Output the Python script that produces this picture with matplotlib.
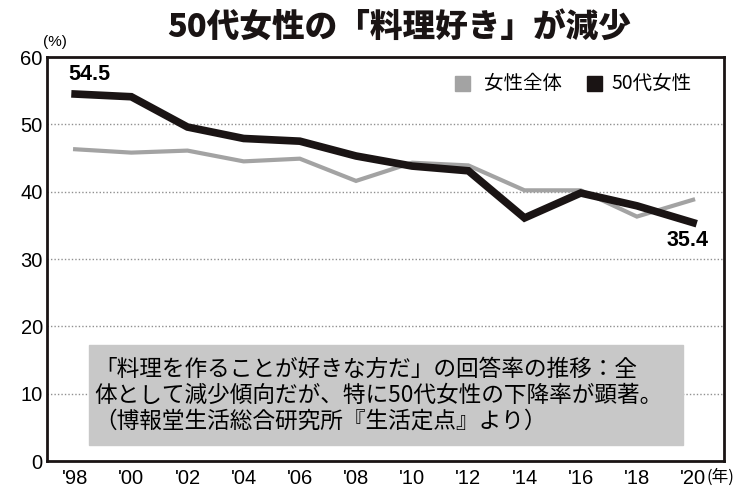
import matplotlib
matplotlib.use('Agg')
import matplotlib.pyplot as plt
from matplotlib.patches import Rectangle

plt.rcParams['font.family'] = ['Noto Sans CJK JP', 'DejaVu Sans']

years = [1998, 2000, 2002, 2004, 2006, 2008, 2010, 2012, 2014, 2016, 2018, 2020]
tick_labels = ["'98", "'00", "'02", "'04", "'06", "'08", "'10", "'12", "'14", "'16", "'18", "'20"]
women_all = [46.3, 45.8, 46.1, 44.5, 44.9, 41.6, 44.3, 43.9, 40.2, 40.2, 36.3, 38.8]
women_50s = [54.5, 54.1, 49.6, 47.9, 47.5, 45.3, 43.8, 43.1, 36.1, 39.8, 37.9, 35.4]

fig = plt.figure(figsize=(7.5, 4.94), dpi=100)
ax = fig.add_axes([0.0627, 0.0668, 0.9026, 0.8178])

ax.plot(years, women_all, color='#a3a3a3', lw=3, solid_joinstyle='miter', zorder=3)
ax.plot(years, women_50s, color='#1a1414', lw=5.5, solid_joinstyle='miter', zorder=4)

ax.set_xlim(1997.0, 2021.1)
ax.set_ylim(0, 60)
ax.set_yticks(range(0, 61, 10))
ax.set_xticks(years)
ax.set_xticklabels(tick_labels, family='Liberation Sans', fontsize=14.5)
for t in ax.get_yticklabels():
    t.set_family('Liberation Sans')
    t.set_fontsize(14.5)
ax.tick_params(length=0, pad=6)
ax.tick_params(axis='y', pad=3)
for y in range(10, 60, 10):
    ax.axhline(y, color='#909090', lw=1, ls=(0, (1, 1.5)), zorder=1)
for s in ax.spines.values():
    s.set_linewidth(2)
    s.set_color('#1a1414')

# value labels
ax.text(years[0] - 0.25, women_50s[0] + 1.3, '54.5', fontsize=15.5, fontweight='bold',
        family='Liberation Sans', ha='left', va='bottom')
ax.text(years[-1] + 0.55, women_50s[-1] - 1.1, '35.4', fontsize=15.5, fontweight='bold',
        family='Liberation Sans', ha='right', va='top')

# title and units
fig.text(0.532, 0.946, '50代女性の「料理好き」が減少', fontsize=23.5, fontweight='heavy',
         ha='center', va='center', color='#1a1414')
fig.text(0.057, 0.915, '(%)', fontsize=11, family='Liberation Sans', ha='left', va='center')
fig.text(0.942, 0.034, '(年)', fontsize=12, ha='left', va='center')

# legend
fig.patches.append(Rectangle((0.607, 0.815), 0.02, 0.031, transform=fig.transFigure,
                             color='#a3a3a3'))
fig.text(0.645, 0.83, '女性全体', fontsize=14, ha='left', va='center')
fig.patches.append(Rectangle((0.783, 0.815), 0.02, 0.031, transform=fig.transFigure,
                             color='#1a1414'))
fig.text(0.815, 0.83, '50代女性', fontsize=14, ha='left', va='center')

# note box
fig.patches.append(Rectangle((0.118, 0.099), 0.793, 0.203, transform=fig.transFigure,
                             color='#c8c8c8', zorder=5))
note = ('「料理を作ることが好きな方だ」の回答率の推移：全\n'
        '体として減少傾向だが、特に50代女性の下降率が顕著。\n'
        '（博報堂生活総合研究所『生活定点』より）')
fig.text(0.126, 0.2, note, fontsize=16.3, ha='left', va='center', linespacing=1.15,
         zorder=6)

fig.savefig('out.png', dpi=100)
